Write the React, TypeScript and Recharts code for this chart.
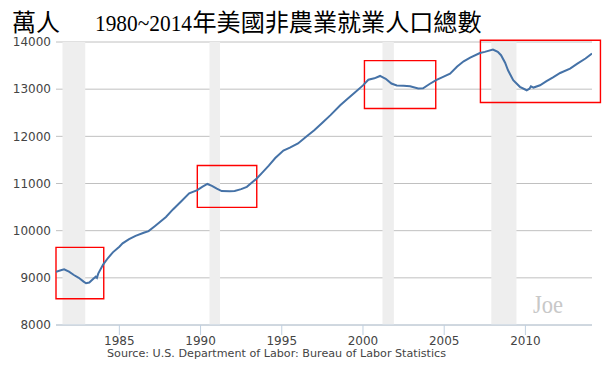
import React from 'react';
import { LineChart, Line, XAxis, YAxis, CartesianGrid, ReferenceArea } from 'recharts';

// decimal year of each reading
const years = [
  1981.1, 1981.4, 1981.6, 1981.9, 1982.2, 1982.5, 1982.8, 1982.95, 1983.15, 1983.4,
  1983.55, 1983.62, 1983.7, 1984.0, 1984.3, 1984.6, 1985.0, 1985.2, 1985.6, 1986.0,
  1986.5, 1986.8, 1987.2, 1987.87, 1988.3, 1988.8, 1989.3, 1989.8, 1990.1, 1990.42,
  1990.7, 1991.0, 1991.3, 1991.8, 1992.1, 1992.5, 1992.85, 1993.2, 1993.46, 1993.8,
  1994.2, 1994.6, 1995.1, 1995.5, 1996.0, 1996.5, 1997.0, 1997.5, 1998.0, 1998.6,
  1999.0, 1999.5, 2000.0, 2000.33, 2000.7, 2001.05, 2001.4, 2001.75, 2002.08, 2002.5,
  2002.9, 2003.4, 2003.7, 2004.1, 2004.5, 2005.0, 2005.36, 2005.8, 2006.2, 2006.6,
  2007.2, 2007.5, 2008.0, 2008.3, 2008.5, 2008.75, 2008.93, 2009.25, 2009.66, 2010.08,
  2010.25, 2010.34, 2010.5, 2010.9, 2011.3, 2011.7, 2012.14, 2012.75, 2013.2, 2013.7,
  2014.1,
];

// nonfarm employment, 萬人
const jobs = [
  9130, 9160, 9180, 9130, 9060, 9000, 8920, 8885, 8900, 8980,
  9025, 9000, 9090, 9280, 9420, 9540, 9660, 9730, 9820, 9890,
  9955, 9990, 10100, 10290, 10450, 10620, 10790, 10860, 10930, 10990,
  10950, 10890, 10840, 10835, 10840, 10880, 10930, 11030, 11107, 11230,
  11380, 11540, 11700, 11760, 11850, 11990, 12130, 12290, 12450, 12660,
  12780, 12930, 13080, 13200, 13230, 13280, 13220, 13120, 13080, 13070,
  13062, 13013, 13020, 13110, 13190, 13270, 13330, 13480, 13590, 13670,
  13767, 13790, 13840, 13790, 13720, 13560, 13400, 13190, 13050, 12977,
  13010, 13062, 13034, 13083, 13170, 13250, 13343, 13436, 13540, 13650,
  13754,
];

const recessionStart = [1981.5, 1990.55, 2001.2, 2007.9];
const recessionEnd = [1982.9, 1991.2, 2001.9, 2009.45];

const boxX1 = [1981.1, 1989.8, 2000.09, 2007.23];
const boxX2 = [1984.04, 1993.46, 2004.48, 2014.62];
const boxY1 = [8557, 10493, 12590, 12717];
const boxY2 = [9646, 11383, 13606, 14036];

const xTicks = [1985, 1990, 1995, 2000, 2005, 2010];
const yTicks = [8000, 9000, 10000, 11000, 12000, 13000, 14000];

const titleUnit = '萬人';
const titleYears = '1980~2014';
const titleText = '年美國非農業就業人口總數';
const sourceText = 'Source: U.S. Department of Labor: Bureau of Labor Statistics';
const watermark = 'Joe';

const data = years.map((x, i) => ({ x, v: jobs[i] }));

const axisFont = "'DejaVu Sans', Verdana, sans-serif";

export default function App() {
  return (
    <div style={{ position: 'absolute', left: 0, top: 0, width: 606, height: 367, background: '#fff' }}>
      <LineChart
        width={606}
        height={367}
        data={data}
        margin={{ top: 42, right: 14, bottom: 12, left: 6 }}
      >
        <CartesianGrid vertical={false} stroke="#C0C0C0" strokeWidth={1} />
        {recessionStart.map((s, i) => (
          <ReferenceArea
            key={'r' + i}
            x1={s}
            x2={recessionEnd[i]}
            y1={8000}
            y2={14000}
            fill="#EEEEEE"
            fillOpacity={1}
            stroke="none"
          />
        ))}
        <XAxis
          dataKey="x"
          type="number"
          domain={[1981.1, 2014.1]}
          ticks={xTicks}
          allowDataOverflow
          height={30}
          tickSize={10}
          tickMargin={1}
          axisLine={{ stroke: '#C0D0E0', strokeWidth: 1 }}
          tickLine={{ stroke: '#C0D0E0', strokeWidth: 1 }}
          tick={{ fill: '#444', fontSize: 12, fontFamily: axisFont }}
        />
        <YAxis
          type="number"
          domain={[8000, 14000]}
          ticks={yTicks}
          width={50}
          tickSize={0}
          tickMargin={5}
          axisLine={false}
          tickLine={false}
          tick={{ fill: '#444', fontSize: 12, fontFamily: axisFont }}
        />
        <Line
          type="linear"
          dataKey="v"
          stroke="#4572A7"
          strokeWidth={2}
          dot={false}
          isAnimationActive={false}
        />
        {boxX1.map((s, i) => (
          <ReferenceArea
            key={'b' + i}
            x1={s}
            x2={boxX2[i]}
            y1={boxY1[i]}
            y2={boxY2[i]}
            fill="none"
            fillOpacity={0}
            stroke="#FF0000"
            strokeWidth={1.4}
            ifOverflow="visible"
          />
        ))}
      </LineChart>
      <svg
        width={606}
        height={367}
        style={{ position: 'absolute', left: 0, top: 0, pointerEvents: 'none' }}
      >
        <text x={12} y={31} fontSize={24} fontFamily="'Noto Sans CJK TC', sans-serif" fill="#000">
          {titleUnit}
        </text>
        <text
          x={95}
          y={31}
          fontSize={23}
          fontFamily="'Liberation Serif', 'Times New Roman', serif"
          fill="#000"
          textLength={97}
          lengthAdjust="spacingAndGlyphs"
        >
          {titleYears}
        </text>
        <text
          x={192.5}
          y={31}
          fontSize={24}
          fontFamily="'Noto Sans CJK TC', sans-serif"
          fill="#000"
          textLength={289}
          lengthAdjust="spacingAndGlyphs"
        >
          {titleText}
        </text>
        <text
          x={107}
          y={356.5}
          fontSize={10}
          fontFamily={axisFont}
          fill="#444"
          textLength={339}
          lengthAdjust="spacingAndGlyphs"
        >
          {sourceText}
        </text>
        <text
          x={533}
          y={312.5}
          fontSize={25}
          fontFamily="'Liberation Serif', serif"
          fill="#C8C8C8"
          textLength={30}
          lengthAdjust="spacingAndGlyphs"
        >
          {watermark}
        </text>
      </svg>
    </div>
  );
}
